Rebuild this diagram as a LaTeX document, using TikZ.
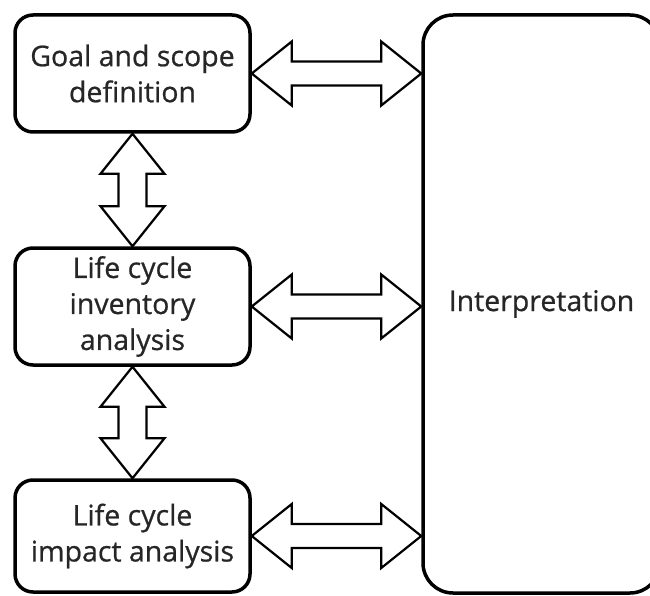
\documentclass[tikz,border=0pt]{standalone}
\usepackage{fontspec}
\setmainfont{Open Sans}
\newfontfamily\lblfont[FakeBold=0.7]{Open Sans}
\usetikzlibrary{calc}
\newcommand\hdarrow[2]{\draw[dblarrow] (#1) -- ++(40,-32) -- ++(0,20) -- ($(#2)+(-40,-12)$) -- ++(0,-20) -- (#2) -- ++(-40,32) -- ++(0,-20) -- ($(#1)+(40,12)$) -- ++(0,20) -- cycle;}
\newcommand\vdarrow[2]{\draw[dblarrow] (#1) -- ++(32,40) -- ++(-18,0) -- ($(#2)+(14,-40)$) -- ++(18,0) -- (#2) -- ++(-32,-40) -- ++(18,0) -- ($(#1)+(-14,40)$) -- ++(-18,0) -- cycle;}
\begin{document}
\begin{tikzpicture}[x=1pt,y=-1pt,
  box/.style={draw, line width=3.5pt, rounded corners=18pt, align=center,
    font=\lblfont\fontsize{28.5}{36}\selectfont, text=black!85, inner sep=0pt},
  dblarrow/.style={draw, line width=2.2pt, fill=white, line join=miter}]
\useasboundingbox (0,0) rectangle (650,596);
\node[box, minimum width=235pt, minimum height=117pt] (g) at (132.5,73.5) {Goal and scope\\definition};
\node[box, minimum width=235pt, minimum height=117pt] (l) at (132.5,306.5) {Life cycle\\inventory\\analysis};
\node[box, minimum width=235pt, minimum height=112pt] (m) at (132.5,536) {Life cycle\\impact analysis};
\node[box, rounded corners=30pt, minimum width=237pt, minimum height=578pt] (i) at (541.5,304) {Interpretation};
\coordinate (ig) at (g.east -| i.west);
\coordinate (il) at (l.east -| i.west);
\coordinate (im) at (m.east -| i.west);
\hdarrow{g.east}{ig}
\hdarrow{l.east}{il}
\hdarrow{m.east}{im}
\vdarrow{g.south}{l.north}
\vdarrow{l.south}{m.north}
\end{tikzpicture}
\end{document}
